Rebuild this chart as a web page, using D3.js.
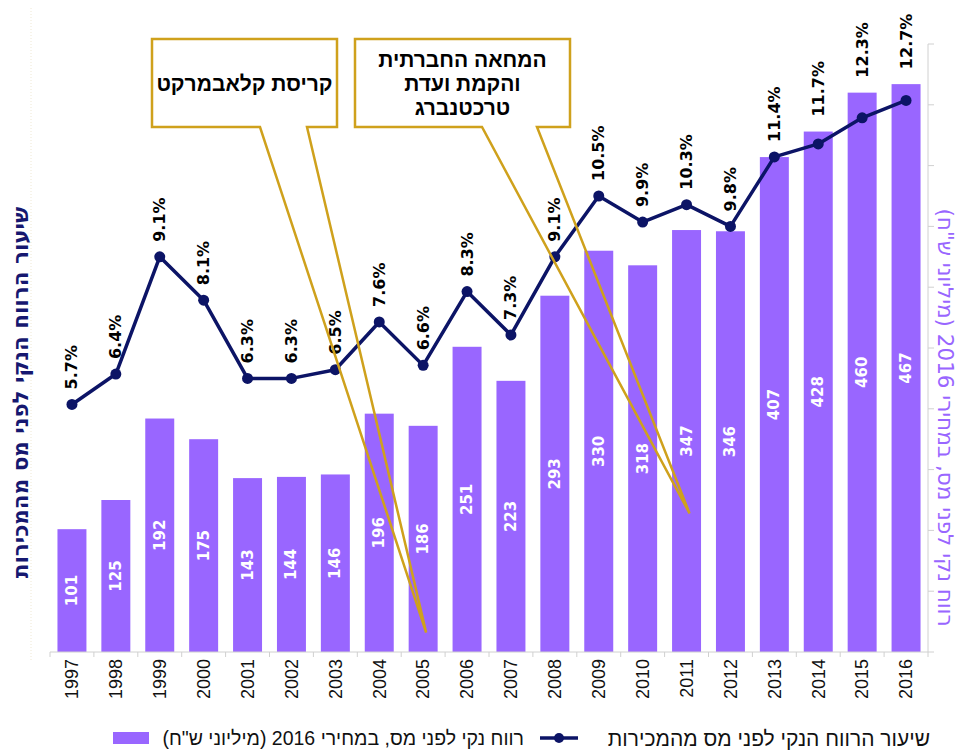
<!DOCTYPE html>
<html>
<head>
<meta charset="utf-8">
<script src="https://cdn.jsdelivr.net/npm/d3@7"></script>
<style>
  body { margin: 0; background: #fff; }
  svg { display: block; }
</style>
</head>
<body>
<svg class="chart"></svg>
<script>
//Données
let years = ["1997","1998","1999","2000","2001","2002","2003","2004","2005","2006",
             "2007","2008","2009","2010","2011","2012","2013","2014","2015","2016"];
let profit = [101,125,192,175,143,144,146,196,186,251,223,293,330,318,347,346,407,428,460,467];
let margin = [5.7,6.4,9.1,8.1,6.3,6.3,6.5,7.6,6.6,8.3,7.3,9.1,10.5,9.9,10.3,9.8,11.4,11.7,12.3,12.7];
let barTicks = [0,50,100,150,200,250,300,350,400,450,500];
let leftTitle = "שיעור הרווח הנקי לפני מס מהמכירות";
let rightTitle = 'רווח נקי לפני מס, במחירי 2016 (מיליוני ש"ח)';
let legendBar = 'רווח נקי לפני מס, במחירי 2016 (מיליוני ש"ח)';
let legendLine = "שיעור הרווח הנקי לפני מס מהמכירות";
let callouts = [
  {lines: ["קריסת קלאבמרקט"], year: "2005", value: 16},
  {lines: ["המחאה החברתית", "והקמת ועדת", "טרכטנברג"], year: "2011", value: 114}
];

let W = 961, H = 751;
let barColor = "#9966ff";
let lineColor = "#0c1466";
let gold = "#cfa11c";

let svg = d3.select(".chart").attr("width", W).attr("height", H);

//Échelles
let x = d3.scaleBand().domain(years).range([50, 928]).paddingInner(0.34).paddingOuter(0.17);
let yBar = d3.scaleLinear().domain([0, 500]).range([652, 44]);
let yPct = d3.scaleLinear().domain([0, 14]).range([652, 44]);
let half = x.step() * 0.17;

//Bordure pointillée à gauche
svg.append("line")
  .attr("x1", 31).attr("x2", 31).attr("y1", 8).attr("y2", 660)
  .attr("stroke", "#efe8d4").attr("stroke-dasharray", "1,2");

//Barres
svg.selectAll(".bar")
  .data(years)
  .enter().append("rect")
    .attr("class", "bar")
    .attr("x", d => x(d))
    .attr("width", x.bandwidth())
    .attr("y", (d, i) => yBar(profit[i]))
    .attr("height", (d, i) => yBar(0) - yBar(profit[i]))
    .attr("fill", barColor);

//Étiquettes des barres
svg.selectAll(".barLabel")
  .data(years)
  .enter().append("text")
    .attr("transform", (d, i) => `translate(${x(d) + x.bandwidth() / 2},${(yBar(profit[i]) + yBar(0)) / 2}) rotate(-90)`)
    .attr("text-anchor", "middle")
    .attr("dominant-baseline", "central")
    .attr("font-family", "DejaVu Sans")
    .attr("font-weight", "bold")
    .attr("font-size", 15)
    .attr("fill", "#fff")
    .text((d, i) => profit[i]);

//Axe x
let axisCol = "#d0d0d0";
svg.append("line")
  .attr("x1", x.range()[0]).attr("x2", x.range()[1])
  .attr("y1", yBar(0)).attr("y2", yBar(0))
  .attr("stroke", axisCol);
svg.selectAll(".xtick")
  .data(years.concat(["end"]))
  .enter().append("line")
    .attr("x1", (d, i) => i < years.length ? x(d) - half : x(years[years.length - 1]) + x.bandwidth() + half)
    .attr("x2", (d, i) => i < years.length ? x(d) - half : x(years[years.length - 1]) + x.bandwidth() + half)
    .attr("y1", yBar(0)).attr("y2", yBar(0) + 5)
    .attr("stroke", axisCol);

let gx = svg.append("g")
  .attr("transform", `translate(0,${yBar(0)})`)
  .call(d3.axisBottom(x).tickSize(0).tickPadding(0));
gx.select(".domain").remove();
gx.selectAll("text")
  .attr("transform", "translate(0,7) rotate(-90)")
  .attr("text-anchor", "end")
  .attr("dy", "0.35em")
  .attr("y", 0)
  .attr("font-family", "Liberation Sans")
  .attr("font-size", 18)
  .attr("fill", "#111");

//Axe droit (sans étiquettes)
svg.append("line")
  .attr("x1", 928).attr("x2", 928).attr("y1", yBar(500)).attr("y2", yBar(0))
  .attr("stroke", axisCol);
svg.selectAll(".ytick")
  .data(barTicks)
  .enter().append("line")
    .attr("x1", 928).attr("x2", 934)
    .attr("y1", d => yBar(d)).attr("y2", d => yBar(d))
    .attr("stroke", axisCol);

//Ligne du taux
let line = d3.line()
  .x(d => x(d) + x.bandwidth() / 2)
  .y((d, i) => yPct(margin[i]));
svg.append("path")
  .datum(years)
  .attr("d", line)
  .attr("fill", "none")
  .attr("stroke", lineColor)
  .attr("stroke-width", 3.5)
  .attr("stroke-linejoin", "round");
svg.selectAll(".dot")
  .data(years)
  .enter().append("circle")
    .attr("cx", d => x(d) + x.bandwidth() / 2)
    .attr("cy", (d, i) => yPct(margin[i]))
    .attr("r", 5.5)
    .attr("fill", lineColor);

//Étiquettes du taux, au-dessus du point ou de la barre
svg.selectAll(".pctLabel")
  .data(years)
  .enter().append("text")
    .attr("transform", (d, i) => `translate(${x(d) + x.bandwidth() / 2},${Math.min(yPct(margin[i]), yBar(profit[i])) - 15}) rotate(-90)`)
    .attr("text-anchor", "start")
    .attr("dominant-baseline", "central")
    .attr("font-family", "DejaVu Sans")
    .attr("font-weight", "bold")
    .attr("font-size", 16)
    .attr("fill", "#000")
    .text((d, i) => margin[i].toFixed(1) + "%");

//Titres des axes
svg.append("text")
  .attr("transform", `translate(20,${(195 + 590) / 2}) rotate(-90)`)
  .attr("text-anchor", "middle")
  .attr("dominant-baseline", "central")
  .attr("font-family", "DejaVu Sans")
  .attr("font-weight", "bold")
  .attr("font-size", 21.5)
  .attr("fill", "#161870")
  .style("direction", "rtl")
  .text(leftTitle);

svg.append("text")
  .attr("transform", `translate(945,${(195 + 640) / 2}) rotate(90)`)
  .attr("text-anchor", "middle")
  .attr("dominant-baseline", "central")
  .attr("font-family", "DejaVu Sans")
  .attr("font-size", 21.5)
  .attr("fill", barColor)
  .style("direction", "rtl")
  .text(rightTitle);

//Bulles d'annotation
let boxes = [
  {x0: 152, y0: 39, x1: 337, y1: 127, b0: 260, b1: 307},
  {x0: 355, y0: 39, x1: 570, y1: 127, b0: 482, b1: 537}
];
callouts.forEach(function(c, k) {
  let b = boxes[k];
  let tx = x(c.year) + x.bandwidth() / 2 + 3;
  let ty = yBar(c.value);
  svg.append("rect")
    .attr("x", b.x0).attr("y", b.y0)
    .attr("width", b.x1 - b.x0).attr("height", b.y1 - b.y0)
    .attr("fill", "#fff");
  let p = d3.path();
  p.moveTo(b.b0, b.y1);
  p.lineTo(b.x0, b.y1);
  p.lineTo(b.x0, b.y0);
  p.lineTo(b.x1, b.y0);
  p.lineTo(b.x1, b.y1);
  p.lineTo(b.b1, b.y1);
  p.lineTo(tx, ty);
  p.closePath();
  svg.append("path")
    .attr("d", p.toString())
    .attr("fill", "none")
    .attr("stroke", gold)
    .attr("stroke-width", 2.5)
    .attr("stroke-linejoin", "miter");
  let cy = (b.y0 + b.y1) / 2;
  let lh = 24;
  c.lines.forEach(function(t, j) {
    svg.append("text")
      .attr("x", (b.x0 + b.x1) / 2)
      .attr("y", cy + (j - (c.lines.length - 1) / 2) * lh)
      .attr("text-anchor", "middle")
      .attr("dominant-baseline", "central")
      .attr("font-family", "Liberation Sans")
      .attr("font-weight", "bold")
      .attr("font-size", 21)
      .attr("fill", "#000")
      .style("direction", "rtl")
      .text(t);
  });
});

//Légende
let ly = 738;
svg.append("rect")
  .attr("x", 113).attr("y", ly - 6).attr("width", 36).attr("height", 12)
  .attr("fill", barColor);
svg.append("text")
  .attr("x", 524).attr("y", ly)
  .attr("text-anchor", "start")
  .attr("dominant-baseline", "central")
  .attr("font-family", "Liberation Sans")
  .attr("font-size", 19.5)
  .attr("fill", "#111")
  .style("direction", "rtl")
  .text(legendBar);
svg.append("line")
  .attr("x1", 540).attr("x2", 578).attr("y1", ly).attr("y2", ly)
  .attr("stroke", lineColor).attr("stroke-width", 3.5);
svg.append("circle")
  .attr("cx", 559).attr("cy", ly).attr("r", 5)
  .attr("fill", lineColor);
svg.append("text")
  .attr("x", 930).attr("y", ly)
  .attr("text-anchor", "start")
  .attr("dominant-baseline", "central")
  .attr("font-family", "Liberation Sans")
  .attr("font-size", 21)
  .attr("fill", "#111")
  .style("direction", "rtl")
  .text(legendLine);
</script>
</body>
</html>
